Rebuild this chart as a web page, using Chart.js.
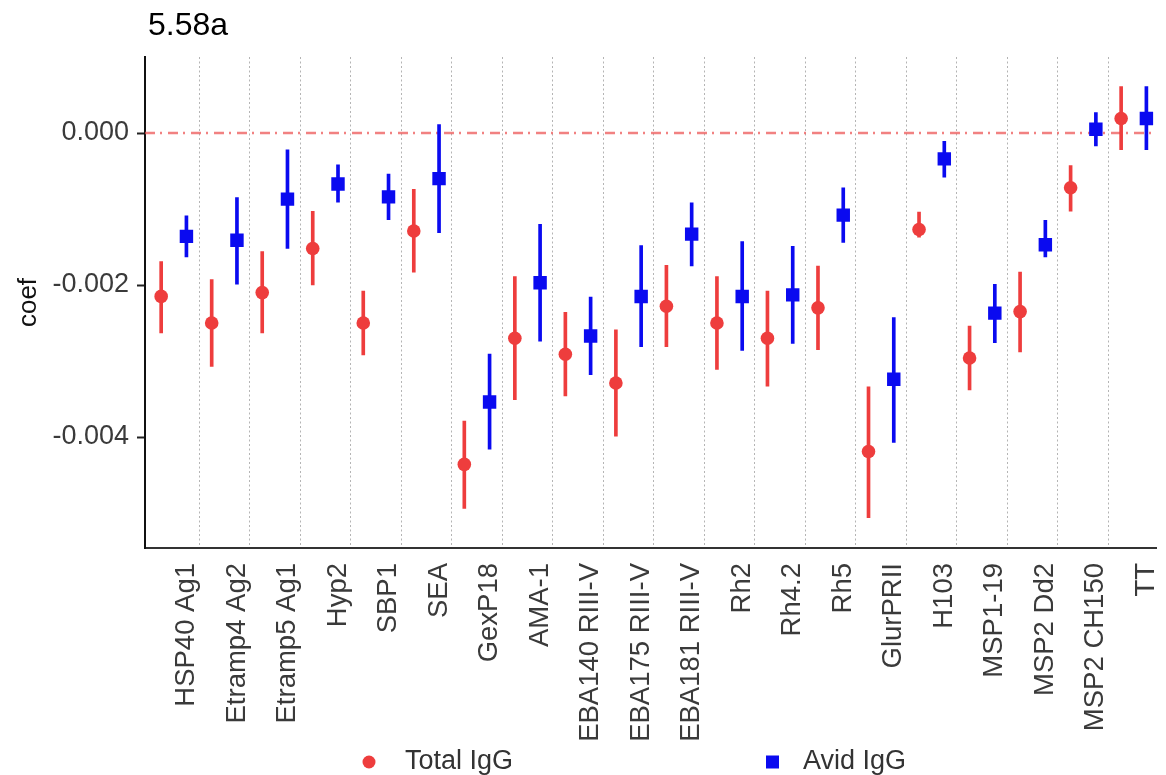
<!DOCTYPE html>
<html>
<head>
<meta charset="utf-8">
<title>coef by antigen</title>
<script src="https://cdn.jsdelivr.net/npm/chart.js@4.4.1/dist/chart.umd.min.js"></script>
<style>
  html, body { margin: 0; padding: 0; background: #fff; overflow: hidden; }
  #wrap { width: 1166px; height: 775px; position: relative; }
</style>
</head>
<body>
<div id="wrap"><canvas id="coefChart"></canvas></div>
<script>
const antigens = [
  "HSP40 Ag1", "Etramp4 Ag2", "Etramp5 Ag1", "Hyp2", "SBP1", "SEA", "GexP18",
  "AMA-1", "EBA140 RIII-V", "EBA175 RIII-V", "EBA181 RIII-V", "Rh2", "Rh4.2",
  "Rh5", "GlurPRII", "H103", "MSP1-19", "MSP2 Dd2", "MSP2 CH150", "TT"
];

// Total IgG: estimate and interval
const totalCoef = [-0.00215, -0.00250, -0.00210, -0.00152, -0.00250, -0.00129, -0.00436,
  -0.00270, -0.00291, -0.00329, -0.00228, -0.00250, -0.00270, -0.00230, -0.00419,
  -0.00127, -0.00296, -0.00235, -0.00072, 0.00019];
const totalLow = [-0.00263, -0.00307, -0.00263, -0.00200, -0.00292, -0.00183, -0.00494,
  -0.00351, -0.00346, -0.00399, -0.00281, -0.00311, -0.00333, -0.00285, -0.00506,
  -0.00137, -0.00338, -0.00288, -0.00103, -0.00022];
const totalHigh = [-0.00169, -0.00193, -0.00156, -0.00103, -0.00208, -0.00074, -0.00379,
  -0.00189, -0.00236, -0.00259, -0.00174, -0.00189, -0.00208, -0.00175, -0.00334,
  -0.00104, -0.00254, -0.00183, -0.00043, 0.00061];

// Avid IgG: estimate and interval
const avidCoef = [-0.00136, -0.00141, -0.00087, -0.00067, -0.00084, -0.00060, -0.00354,
  -0.00197, -0.00267, -0.00215, -0.00133, -0.00215, -0.00213, -0.00108, -0.00324,
  -0.00034, -0.00237, -0.00147, 0.00005, 0.00019];
const avidLow = [-0.00163, -0.00199, -0.00152, -0.00091, -0.00114, -0.00131, -0.00416,
  -0.00274, -0.00318, -0.00281, -0.00175, -0.00286, -0.00277, -0.00144, -0.00407,
  -0.00058, -0.00276, -0.00163, -0.00017, -0.00022];
const avidHigh = [-0.00109, -0.00085, -0.00022, -0.00042, -0.00054, 0.00011, -0.00291,
  -0.00120, -0.00216, -0.00148, -0.00092, -0.00143, -0.00149, -0.00072, -0.00243,
  -0.00011, -0.00199, -0.00115, 0.00027, 0.00061];

const yTicks = [0, -0.002, -0.004];
const refValue = 0;

const FONT = "'Liberation Sans', Arial, sans-serif";
const RED = '#ee3d3d';
const BLUE = '#0a0af0';
const DODGE = 0.25;
const X_MIN = -0.57, X_MAX = 19.45;

const pts = (vals, dx) => vals.map((v, i) => ({ x: i + dx, y: v }));
const bars = (lo, hi, dx) => lo.map((v, i) => ({ x: i + dx, y: [v, hi[i]] }));

// title above the panel and the key below the axis labels
const headerAndKey = {
  id: 'headerAndKey',
  afterDraw(chart) {
    const { ctx, chartArea } = chart;
    ctx.save();
    ctx.fillStyle = '#000';
    ctx.font = `32px ${FONT}`;
    ctx.textBaseline = 'alphabetic';
    ctx.textAlign = 'left';
    ctx.fillText('5.58a', chartArea.left + 3, 35);

    const keyY = 762;
    const total = chart.data.datasets[0];
    const avid = chart.data.datasets[1];
    ctx.font = `27px ${FONT}`;
    ctx.textBaseline = 'middle';

    ctx.fillStyle = total.backgroundColor;
    ctx.beginPath();
    ctx.arc(369, keyY, 6.5, 0, Math.PI * 2);
    ctx.fill();
    ctx.fillStyle = '#333';
    ctx.fillText(total.label, 405, keyY);

    ctx.fillStyle = avid.backgroundColor;
    ctx.fillRect(766, keyY - 6.5, 13, 13);
    ctx.fillStyle = '#333';
    ctx.fillText(avid.label, 803, keyY);
    ctx.restore();
  }
};

new Chart(document.getElementById('coefChart'), {
  type: 'scatter',
  data: {
    datasets: [
      {
        label: 'Total IgG',
        data: pts(totalCoef, -DODGE),
        backgroundColor: RED,
        pointStyle: 'circle',
        pointRadius: 6.8,
        pointBorderWidth: 0,
        xAxisID: 'x',
        order: 0
      },
      {
        label: 'Avid IgG',
        data: pts(avidCoef, DODGE),
        backgroundColor: BLUE,
        pointStyle: 'rect',
        pointRadius: 9.5,
        pointBorderWidth: 0,
        xAxisID: 'x',
        order: 0
      },
      {
        type: 'bar',
        label: 'Total IgG interval',
        data: bars(totalLow, totalHigh, -DODGE),
        backgroundColor: RED,
        borderWidth: 0,
        barThickness: 3,
        grouped: false,
        xAxisID: 'x',
        order: 1
      },
      {
        type: 'bar',
        label: 'Avid IgG interval',
        data: bars(avidLow, avidHigh, DODGE),
        backgroundColor: BLUE,
        borderWidth: 0,
        barThickness: 3,
        grouped: false,
        xAxisID: 'x',
        order: 1
      },
      {
        type: 'line',
        label: 'zero',
        data: [{ x: X_MIN, y: refValue }, { x: X_MAX, y: refValue }],
        borderColor: 'rgba(236, 80, 80, 0.72)',
        borderWidth: 2.5,
        borderDash: [10, 5, 2, 6],
        pointRadius: 0,
        showLine: true,
        fill: false,
        xAxisID: 'x',
        order: 2
      }
    ]
  },
  plugins: [headerAndKey],
  options: {
    responsive: true,
    maintainAspectRatio: false,
    animation: false,
    layout: { padding: { top: 57, right: 0, bottom: 0, left: 0 } },
    plugins: {
      legend: { display: false },
      tooltip: { enabled: false }
    },
    scales: {
      x: {
        type: 'linear',
        position: 'bottom',
        min: X_MIN,
        max: X_MAX,
        offset: false,
        afterBuildTicks: s => { s.ticks = antigens.map((_, i) => ({ value: i + DODGE })); },
        afterFit: s => { s.height = 227; s.paddingLeft = 0; s.paddingRight = 0; },
        grid: { display: false, drawTicks: false },
        border: { display: true, color: '#333', width: 2 },
        ticks: {
          autoSkip: false,
          maxRotation: 90,
          minRotation: 90,
          padding: 15,
          color: '#3a3a3a',
          font: { family: FONT, size: 27.5 },
          callback: (v, i) => antigens[i]
        }
      },
      xg: {
        type: 'linear',
        position: 'bottom',
        min: X_MIN,
        max: X_MAX,
        offset: false,
        afterBuildTicks: s => { s.ticks = antigens.slice(1).map((_, i) => ({ value: i + 0.5 })); },
        afterFit: s => { s.height = 0; s.paddingLeft = 0; s.paddingRight = 0; },
        ticks: { display: false },
        grid: { color: '#b4b4b4', lineWidth: 1, drawTicks: false },
        border: { display: false, dash: [2, 2.5] }
      },
      y: {
        min: -0.00546,
        max: 0.001,
        afterBuildTicks: s => { s.ticks = yTicks.map(v => ({ value: v })); },
        afterFit: s => { s.width = 145; s.paddingTop = 0; s.paddingBottom = 0; },
        grid: { drawOnChartArea: false, drawTicks: true, tickLength: 8, tickColor: '#222', tickWidth: 2 },
        border: { display: true, color: '#111', width: 2 },
        ticks: {
          padding: 8,
          color: '#3a3a3a',
          font: { family: FONT, size: 27 },
          callback: v => v.toFixed(3)
        },
        title: {
          display: true,
          text: 'coef',
          color: '#111',
          font: { family: FONT, size: 26 },
          padding: { top: 13 }
        }
      }
    }
  }
});
</script>
</body>
</html>
